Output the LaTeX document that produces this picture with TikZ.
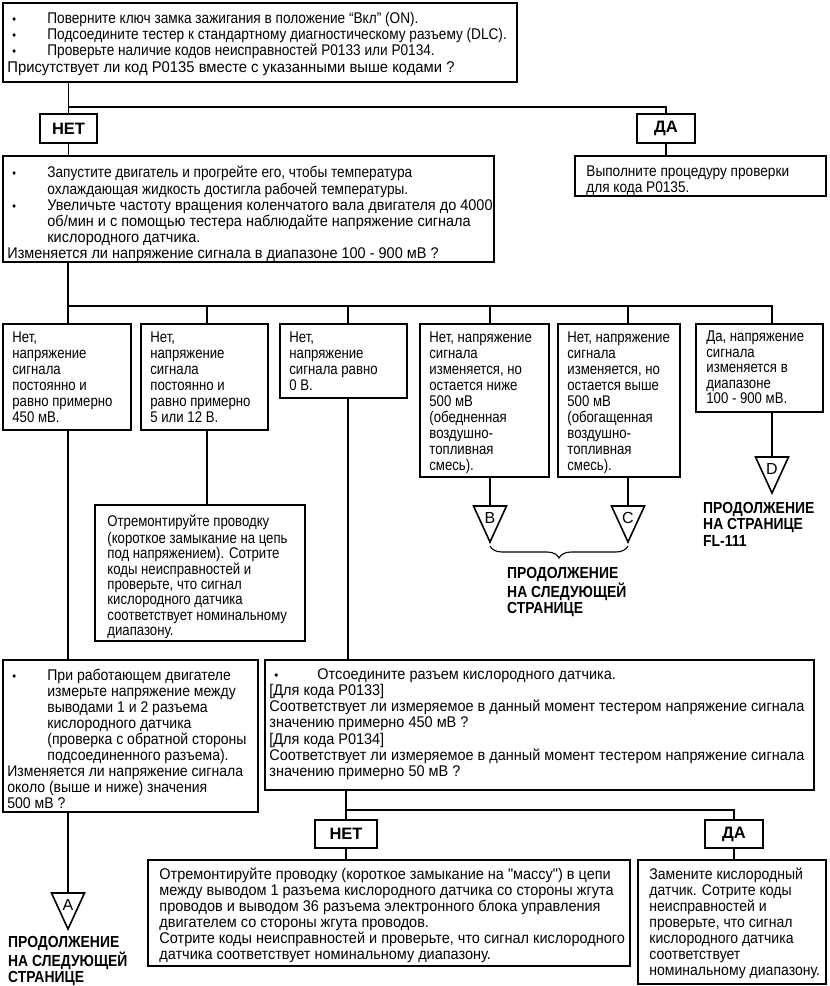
\documentclass[tikz,border=0pt]{standalone}
\usepackage{fontspec}
\setmainfont{Liberation Sans}
\newfontfamily\capfont[FakeStretch=0.87]{Liberation Sans}
\newfontfamily\fontA[FakeStretch=0.85]{Liberation Sans}
\newfontfamily\fontB[FakeStretch=0.88]{Liberation Sans}
\newfontfamily\fontC[FakeStretch=0.905]{Liberation Sans}
\newfontfamily\fontD[FakeStretch=0.935]{Liberation Sans}
\newfontfamily\fontE[FakeStretch=0.955]{Liberation Sans}
\usetikzlibrary{fit,calc,decorations.pathreplacing}
\tikzset{
  box/.style={draw, line width=1.6pt, inner sep=0pt},
  txt/.style={anchor=north west, inner sep=0pt, align=left},
  lab/.style={font=\fontsize{16.5}{18}\selectfont\bfseries, inner sep=0pt},
  captxt/.style={anchor=north west, inner sep=0pt, align=left, font=\capfont\fontsize{16}{16.5}\selectfont\bfseries},
  tribox/.style={draw, line width=1.6pt, line join=miter},
  letter/.style={font=\fontsize{16}{18}\selectfont, inner sep=0pt},
  con/.style={line width=1.5pt},
  thinline/.style={line width=1.1pt},
}
% name, box, x offset, y offset, font, baselineskip, text
\newcommand\mybox[5]{\node[box, fit={(#2,#3) (#4,#5)}] (#1) {};}
\newcommand\mytext[7]{\node[txt, font={\fontsize{15.5}{#6}\selectfont#5}] (#1) at ($(#2.north west)+(#3,#4)$) {\strut #7};}
\newcommand\mydot{{\fontsize{12}{12}\selectfont •}}
\newcommand\bul{\makebox[40pt][l]{\hspace{5pt}\mydot}}
\newcommand\ind{\hspace*{40pt}}
\newcommand\mytri[4]{%
  \draw[tribox] (#2-16.5,#3) -- (#2+16.5,#3) -- (#2,#3+36) -- cycle;
  \node[letter] (#1) at (#2,#3+12) {#4};}
\begin{document}
\begin{tikzpicture}[x=1pt,y=-1pt]
\useasboundingbox[fill=white] (0,0) rectangle (830,986);

% ---- boxes
\mybox{b1}{3}{3}{517}{82}
\mybox{net1}{40}{114}{97}{143}
\mybox{da1}{637}{114}{695}{143}
\mybox{b2}{3}{156}{494}{262}
\mybox{b3}{575}{156}{826}{196}
\mybox{a1}{3}{324}{131}{430}
\mybox{a2}{141}{324}{268}{430}
\mybox{a3}{280}{324}{407}{398}
\mybox{a4}{420}{324}{549}{477}
\mybox{a5}{558}{324}{680}{477}
\mybox{a6}{696}{324}{823}{412}
\mybox{r1}{95}{505}{305}{641}
\mybox{bl}{3}{660}{258}{812}
\mybox{bm}{265}{660}{814}{790}
\mybox{net2}{315}{820}{377}{848}
\mybox{da2}{705}{820}{763}{848}
\mybox{bn}{148}{860}{630}{966}
\mybox{bo}{638}{860}{826}{984}

% ---- labels
\node[lab] (tnet1) at (net1.center) {НЕТ};
\node[lab] (tda1) at (da1.center) {ДА};
\node[lab] (tnet2) at (net2.center) {НЕТ};
\node[lab] (tda2) at (da2.center) {ДА};

% ---- texts
\mytext{t1}{b1}{5}{9.5}{\fontB}{16.3}{\bul Поверните ключ замка зажигания в положение “Вкл” (ON).\\
\bul Подсоедините тестер к стандартному диагностическому разъему (DLC).\\
\bul Проверьте наличие кодов неисправностей P0133 или P0134.\\
{\fontE Присутствует ли код P0135 вместе с указанными выше кодами ?}}

\mytext{t2}{b2}{5}{10.5}{\fontB}{16}{\bul Запустите двигатель и прогрейте его, чтобы температура\\
\ind охлаждающая жидкость достигла рабочей температуры.\\
\bul {\fontD Увеличьте частоту вращения коленчатого вала двигателя до 4000}\\
\ind {\fontD об/мин и с помощью тестера наблюдайте напряжение сигнала}\\
\ind {\fontD кислородного датчика.}\\
{\fontD Изменяется ли напряжение сигнала в диапазоне 100 - 900 мВ ?}}

\mytext{t3}{b3}{12}{9.5}{\fontB}{16}{Выполните процедуру проверки\\для кода P0135.}

\mytext{ta1}{a1}{10}{7.5}{\fontA}{16}{Нет,\\напряжение\\сигнала\\постоянно и\\равно примерно\\450 мВ.}
\mytext{ta2}{a2}{10}{7.5}{\fontA}{16}{Нет,\\напряжение\\сигнала\\постоянно и\\равно примерно\\5 или 12 В.}
\mytext{ta3}{a3}{10}{7.5}{\fontA}{16}{Нет,\\напряжение\\сигнала равно\\0 В.}
\mytext{ta4}{a4}{10}{7.5}{\fontA}{16}{Нет, напряжение\\сигнала\\изменяется, но\\остается ниже\\500 мВ\\(обедненная\\воздушно-\\топливная\\смесь).}
\mytext{ta5}{a5}{10}{7.5}{\fontA}{16}{Нет, напряжение\\сигнала\\изменяется, но\\остается выше\\500 мВ\\(обогащенная\\воздушно-\\топливная\\смесь).}
\mytext{ta6}{a6}{11}{7.5}{\fontA}{15.5}{Да, напряжение\\сигнала\\изменяется в\\диапазоне\\100 - 900 мВ.}

\mytext{tr1}{r1}{13}{10.5}{\fontA}{15.4}{Отремонтируйте проводку\\(короткое замыкание на цепь\\под напряжением). Сотрите\\коды неисправностей и\\проверьте, что сигнал\\кислородного датчика\\соответствует номинальному\\диапазону.}

\mytext{tl}{bl}{5}{10}{\fontC}{16}{\bul При работающем двигателе\\
\ind измерьте напряжение между\\
\ind выводами 1 и 2 разъема\\
\ind кислородного датчика\\
\ind (проверка с обратной стороны\\
\ind подсоединенного разъема).\\
Изменяется ли напряжение сигнала\\
около (выше и ниже) значения\\
500 мВ ?}

\mytext{tm}{bm}{5}{8.5}{\fontD}{16.2}{\makebox[48pt][l]{\hspace{5pt}\mydot}Отсоедините разъем кислородного датчика.\\
\relax[Для кода P0133]\\
Соответствует ли измеряемое в данный момент тестером напряжение сигнала\\
значению примерно 450 мВ ?\\
\relax[Для кода P0134]\\
Соответствует ли измеряемое в данный момент тестером напряжение сигнала\\
значению примерно 50 мВ ?}

\mytext{tn}{bn}{12}{8.5}{\fontD}{16}{Отремонтируйте проводку (короткое замыкание на "массу") в цепи\\
между выводом 1 разъема кислородного датчика со стороны жгута\\
проводов и выводом 36 разъема электронного блока управления\\
двигателем со стороны жгута проводов.\\
Сотрите коды неисправностей и проверьте, что сигнал кислородного\\
датчика соответствует номинальному диапазону.}

\mytext{to}{bo}{12}{8.5}{\fontC}{16}{Замените кислородный\\датчик. Сотрите коды\\неисправностей и\\проверьте, что сигнал\\кислородного датчика\\соответствует\\номинальному диапазону.}

% ---- triangles (off-page connectors)
\mytri{tB}{490}{506}{B}
\mytri{tC}{628}{506}{C}
\mytri{tD}{772}{457}{D}
\mytri{tA}{68}{893}{A}

\node[captxt] (capBC) at (507,567) {ПРОДОЛЖЕНИЕ\\НА СЛЕДУЮЩЕЙ\\СТРАНИЦЕ};
\node[captxt] (capD) at (703,502) {ПРОДОЛЖЕНИЕ\\НА СТРАНИЦЕ\\FL-111};
\node[captxt] (capA) at (8,936) {ПРОДОЛЖЕНИЕ\\НА СЛЕДУЮЩЕЙ\\СТРАНИЦЕ};

\coordinate (bl1) at (490,546);
\coordinate (br1) at (628,546);
\draw[thinline, decorate, decoration={brace, mirror, amplitude=12pt}] (bl1) -- (br1);

% ---- connectors
\coordinate (j1) at (net1.north |- 0,107);
\draw[con] (net1.north |- b1.south) -- (net1.north);
\draw[con] (j1) -| (da1.north);
\draw[con] (net1.south) -- (net1.south |- b2.north);
\draw[con] (da1.south) -- (da1.south |- b3.north);

\coordinate (j2) at (68,306);
\coordinate (c1) at (68,324);
\coordinate (c2) at (207,324);
\coordinate (c3) at (348,324);
\coordinate (c4) at (490,324);
\coordinate (c5) at (628,324);
\coordinate (c6) at (772,324);
\draw[con] (j2 |- b2.south) -- (j2) -- (j2 -| c6) -- (c6);
\foreach \c in {c1,c2,c3,c4,c5}{\draw[con] (j2 -| \c) -- (\c);}

\draw[con] (c1 |- a1.south) -- (c1 |- bl.north);
\draw[con] (c2 |- a2.south) -- (c2 |- r1.north);
\draw[con] (c3 |- a3.south) -- (c3 |- bm.north);
\draw[thinline] (c4 |- a4.south) -- (c4 |- 0,506);
\draw[thinline] (c5 |- a5.south) -- (c5 |- 0,506);
\draw[con] (c6 |- a6.south) -- (c6 |- 0,457);
\draw[con] (c1 |- bl.south) -- (c1 |- 0,893);

\coordinate (j3) at (net2.north |- 0,810);
\draw[con] (net2.north |- bm.south) -- (net2.north);
\draw[con] (j3) -| (da2.north);
\draw[con] (net2.south) -- (net2.south |- bn.north);
\draw[con] (da2.south) -- (da2.south |- bo.north);
\end{tikzpicture}
\end{document}
